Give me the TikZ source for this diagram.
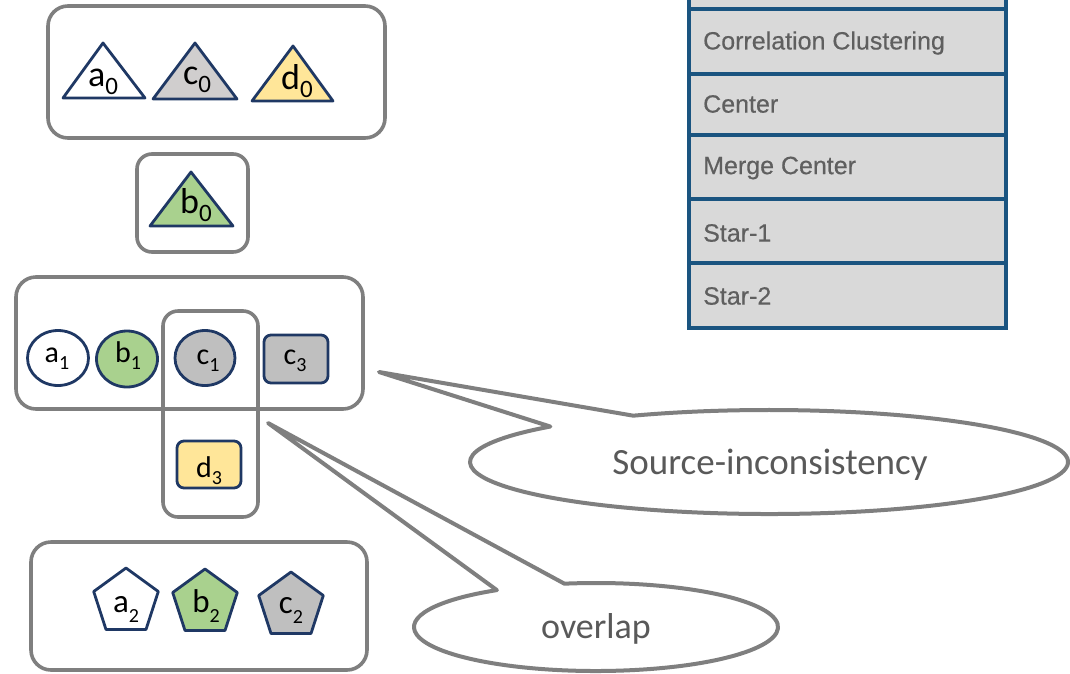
\documentclass[tikz,border=0pt]{standalone}
\usepackage{fontspec}
\setmainfont{Carlito}
\newfontfamily\tablefont[FakeBold=0.4]{Liberation Sans}
\usetikzlibrary{calc,shapes.geometric}

\definecolor{boxgray}{RGB}{127,127,127}
\definecolor{navy}{RGB}{31,56,100}
\definecolor{tblue}{RGB}{26,84,128}
\definecolor{tfill}{RGB}{217,217,217}
\definecolor{ttext}{RGB}{95,95,95}
\definecolor{btext}{RGB}{89,89,89}
\definecolor{fgreen}{RGB}{169,209,142}
\definecolor{fyellow}{RGB}{255,230,153}
\definecolor{fgray}{RGB}{191,191,191}
\definecolor{flgray}{RGB}{208,206,206}

% subscripts for the three label sizes
\newcommand\tsub[1]{\raisebox{-8pt}{\fontsize{25}{25}\selectfont #1}}
\newcommand\esub[1]{\raisebox{-7pt}{\fontsize{20}{20}\selectfont #1}}
\newcommand\psub[1]{\raisebox{-10pt}{\fontsize{20}{20}\selectfont #1}}

\begin{document}
\begin{tikzpicture}[x=1pt,y=-1pt,
  grpbox/.style={draw=boxgray, line width=3.6pt, rounded corners=20pt},
  item/.style={draw=navy, line width=2.8pt, line join=round},
  tlab/.style={anchor=base, inner sep=0pt, font=\fontsize{36}{36}\selectfont},
  elab/.style={anchor=base, inner sep=0pt, font=\fontsize{30}{30}\selectfont},
  plab/.style={anchor=base, inner sep=0pt, font=\fontsize{33}{33}\selectfont},
  rowbox/.style={draw=tblue, fill=tfill, line width=3.4pt},
  rowtext/.style={anchor=west, inner sep=0pt, text=ttext, font=\tablefont\fontsize{25}{25}\selectfont},
  bubble/.style={draw=boxgray, fill=white, line width=4pt, line join=round},
  bubtext/.style={anchor=base, inner sep=0pt, text=btext}]
\useasboundingbox (0,0) rectangle (1070,673);
\clip (0,0) rectangle (1070,673);

% ---- group boxes ----
\draw[grpbox] (48,6) rectangle (385,138);
\draw[grpbox, rounded corners=15pt] (137,154) rectangle (248,252);
\draw[grpbox] (16,277) rectangle (363,409);
\draw[grpbox, rounded corners=15pt] (163,311) rectangle (258,517);
\draw[grpbox] (31,542) rectangle (367,670);

% ---- triangles ----
\draw[item, fill=white]   (63,98) -- (145,98) -- (103,43) -- cycle;
\draw[item, fill=flgray]  (153,99) -- (237,99) -- (195,43) -- cycle;
\draw[item, fill=fyellow] (252,101) -- (333,101) -- (293,46) -- cycle;
\draw[item, fill=fgreen]  (150,226) -- (233,226) -- (191,172) -- cycle;
\node[tlab] (a0) at (103,86) {a\tsub{0}};
\node[tlab] (c0) at (197,84) {c\tsub{0}};
\node[tlab] (d0) at (297,89) {d\tsub{0}};
\node[tlab] (b0) at (196,213) {b\tsub{0}};

% ---- ellipses and rounded rectangles ----
\node[item, ellipse, fill=white,  minimum width=61pt, minimum height=55pt] (e1) at (58,358) {};
\node[item, ellipse, fill=fgreen, minimum width=61pt, minimum height=56pt] (e2) at (127,359) {};
\node[item, ellipse, fill=fgray,  minimum width=60pt, minimum height=55pt] (e3) at (205,358) {};
\draw[item, fill=fgray, rounded corners=7pt] (264,335) rectangle (328,383);
\draw[item, fill=fyellow, rounded corners=7pt] (177,441) rectangle (241,488);
\node[elab] (a1) at (57,362) {a\esub{1}};
\node[elab] (b1) at (128,362) {b\esub{1}};
\node[elab] (c1) at (208,364) {c\esub{1}};
\node[elab] (c3) at (295,364) {c\esub{3}};
\node[elab] (d3) at (209,477) {d\esub{3}};

% ---- pentagons ----
\foreach \cx/\cy/\col in {126/602/white, 205/603/fgreen, 291/606/fgray}
  \draw[item, fill=\col, shift={(\cx,\cy)}]
    (0,-34) -- (-32.3,-10.5) -- (-20,27.5) -- (20,27.5) -- (32.3,-10.5) -- cycle;
\node[plab] (a2) at (126,612) {a\psub{2}};
\node[plab] (b2) at (206,612) {b\psub{2}};
\node[plab] (c2) at (291,613) {c\psub{2}};

% ---- method table ----
\draw[rowbox] (689,-10) rectangle (1006,9);
\draw[rowbox] (689,9) rectangle (1006,74);
\draw[rowbox] (689,74) rectangle (1006,135);
\draw[rowbox] (689,135) rectangle (1006,199);
\draw[rowbox] (689,199) rectangle (1006,263);
\draw[rowbox] (689,263) rectangle (1006,328);
\node[rowtext] (m1) at (703,43) {Correlation Clustering};
\node[rowtext] (m2) at (703,104) {Center};
\node[rowtext] (m3) at (703,168) {Merge Center};
\node[rowtext] (m4) at (703,233) {Star-1};
\node[rowtext] (m5) at (703,296) {Star-2};

% ---- callouts ----
\draw[bubble] ($(769,462)+(-117:299 and 52)$)
  arc[start angle=-117, end angle=223, x radius=299, y radius=52]
  -- (379,372) -- cycle;
\node[bubtext, font=\fontsize{37}{37}\selectfont] (src) at (770,474) {Source-inconsistency};

\draw[bubble] ($(596,627)+(-100:182 and 44)$)
  arc[start angle=-100, end angle=237, x radius=182, y radius=44]
  -- (268,423) -- cycle;
\node[bubtext, font=\fontsize{36}{36}\selectfont] (ovl) at (596,638) {overlap};
\end{tikzpicture}
\end{document}
